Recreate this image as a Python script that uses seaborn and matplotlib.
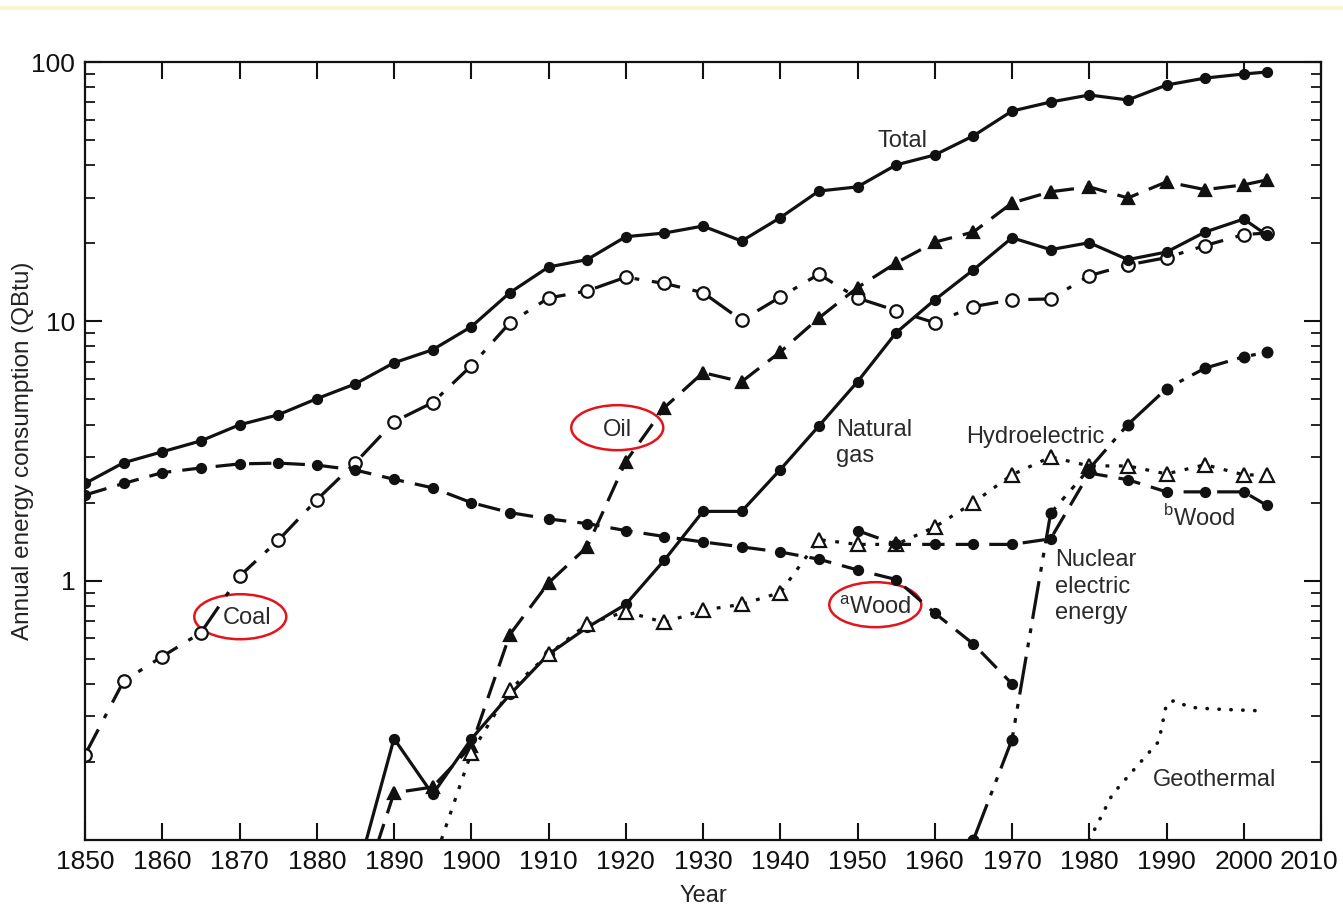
import matplotlib
matplotlib.use("Agg")
import matplotlib.pyplot as plt
import matplotlib.ticker as mticker
from matplotlib.patches import Ellipse, Rectangle
from matplotlib.transforms import ScaledTranslation
import numpy as np
import pandas as pd
import seaborn as sns

# values (QBtu, log scale)
years_5 = list(range(1850, 2001, 5)) + [2003]
total = [2.37, 2.85, 3.14, 3.46, 3.99, 4.36, 5.03, 5.74, 6.92, 7.77, 9.53,
         12.9, 16.2, 17.3, 21.2, 21.9, 23.3, 20.4, 25.1, 31.8, 33.0,
         40.1, 43.8, 51.9, 64.7, 70.1, 74.6, 71.4, 81.5, 86.7, 89.9, 91.5]
coal = [0.213, 0.41, 0.51, 0.63, 1.04, 1.43, 2.05, 2.85, 4.10, 4.86, 6.74,
        9.87, 12.3, 13.1, 14.8, 14.0, 12.9, 10.1, 12.4, 15.2, 12.3,
        11.0, 9.87, 11.4, 12.1, 12.2, 15.0, 16.5, 17.6, 19.6, 21.6, 21.9]

years_oil = list(range(1885, 2001, 5)) + [2003]
oil = [0.053, 0.152, 0.16, 0.23, 0.62, 0.98, 1.35, 2.88, 4.65, 6.34, 5.85,
       7.62, 10.3, 13.5, 16.8, 20.2, 22.1, 28.6, 31.6, 33.0, 29.9, 34.5,
       32.2, 33.6, 35.1]

years_gas = list(range(1885, 2001, 5)) + [2003]
natural_gas = [0.07, 0.246, 0.15, 0.245, 0.364, 0.52, 0.66, 0.81, 1.2, 1.85,
               1.85, 2.68, 3.95, 5.85, 9.04, 12.1, 15.8, 21.0, 18.9, 20.1,
               17.3, 18.5, 22.1, 24.8, 21.5]

years_hydro = list(range(1895, 2001, 5)) + [2003]
hydro = [0.08, 0.217, 0.38, 0.52, 0.68, 0.76, 0.69, 0.77, 0.81, 0.90, 1.44,
         1.38, 1.38, 1.61, 2.0, 2.56, 3.0, 2.77, 2.77, 2.58, 2.8, 2.56, 2.55]

years_wood_a = list(range(1850, 1971, 5))
wood_a = [2.14, 2.37, 2.61, 2.72, 2.82, 2.84, 2.79, 2.67, 2.46, 2.28,
          2.0, 1.83, 1.73, 1.66, 1.56, 1.48, 1.41, 1.35, 1.29, 1.21,
          1.10, 1.01, 0.75, 0.57, 0.40]

years_wood_b = list(range(1950, 2001, 5)) + [2003]
wood_b = [1.56, 1.38, 1.38, 1.38, 1.38, 1.45, 2.6, 2.45, 2.2, 2.2, 2.2, 1.95]

years_nuclear = [1965, 1970, 1975, 1980, 1985, 1990, 1995, 2000, 2003]
nuclear = [0.1, 0.244, 1.82, 2.7, 4.0, 5.5, 6.6, 7.3, 7.6]

years_geo = [1980, 1983, 1986, 1989, 1990, 1991, 1993, 1996, 2002]
geothermal = [0.10, 0.15, 0.19, 0.24, 0.335, 0.345, 0.325, 0.32, 0.315]

x_ticks = list(range(1850, 2011, 10))

sns.set_theme(style="ticks")
plt.rcParams["font.family"] = ["Liberation Sans", "DejaVu Sans"]
plt.rcParams["mathtext.fontset"] = "custom"
plt.rcParams["mathtext.rm"] = "Liberation Sans"

fig = plt.figure(figsize=(13.43, 9.08), dpi=100)
ax = fig.add_axes([85 / 1343, 1 - 840 / 908, (1321 - 85) / 1343, (840 - 62) / 908])
ax.set_yscale("log")

ink = "#111111"
dash = (0, (7, 3.5))
dashdot = (0, (9, 4, 1.5, 4))
dotted = (0, (1.2, 3))
dashdotdot = (0, (12, 3, 1.5, 3, 1.5, 3))

series = [
    (years_5, total, dict(linestyle="-", marker="o", markersize=6.5,
                          markerfacecolor=ink)),
    (years_5, coal, dict(linestyle=dashdot, marker="o", markersize=9,
                         markerfacecolor="white")),
    (years_oil, oil, dict(linestyle=dash, marker="^", markersize=8,
                          markerfacecolor=ink)),
    (years_gas, natural_gas, dict(linestyle="-", marker="o", markersize=6.5,
                                  markerfacecolor=ink)),
    (years_hydro, hydro, dict(linestyle=dotted, marker="^", markersize=10,
                              markerfacecolor="white")),
    (years_wood_a, wood_a, dict(linestyle=dash, marker="o", markersize=6.5,
                                markerfacecolor=ink)),
    (years_wood_b, wood_b, dict(linestyle=dash, marker="o", markersize=6.5,
                                markerfacecolor=ink)),
    (years_nuclear, nuclear, dict(linestyle=dashdotdot, marker="o", markersize=7,
                                  markerfacecolor=ink)),
]
for xs, ys, style in series:
    df = pd.DataFrame({"year": xs, "value": ys})
    sns.lineplot(data=df, x="year", y="value", ax=ax, color=ink, linewidth=2.3,
                 markeredgecolor=ink, markeredgewidth=1.6, errorbar=None,
                 sort=False, **style)

geo_df = pd.DataFrame({"year": years_geo, "value": geothermal})
sns.lineplot(data=geo_df, x="year", y="value", ax=ax, color=ink, linewidth=2.6,
             linestyle=(0, (0.1, 3.2)), dash_capstyle="round", errorbar=None)

ax.set_xlim(1850, 2010)
ax.set_ylim(0.1, 100)
ax.set_xticks(x_ticks)
ax.set_xticklabels([str(x) for x in x_ticks])
ax.set_yticks([1, 10, 100])
ax.set_yticklabels(["1", "10", "100"])
ax.yaxis.set_minor_locator(mticker.LogLocator(base=10, subs=np.arange(2, 10)))
ax.yaxis.set_minor_formatter(mticker.NullFormatter())
ax.xaxis.set_minor_locator(mticker.NullLocator())
ax.tick_params(axis="both", which="major", direction="in", length=12, width=1.5,
               top=True, right=True, labelsize=19, pad=7, colors=ink)
ax.tick_params(axis="y", which="minor", direction="in", length=7, width=1.4,
               left=True, right=True)
for s in ax.spines.values():
    s.set_linewidth(1.6)
    s.set_color(ink)
ax.grid(False)

# the last year label sits a little left of its tick in the scan
last = ax.xaxis.get_major_ticks()[-1].label1
last.set_transform(last.get_transform() + ScaledTranslation(-0.12, 0, fig.dpi_scale_trans))

ax.set_xlabel("Year", fontsize=17, color="#222222", labelpad=8)
ax.set_ylabel("Annual energy consumption (QBtu)", fontsize=17.5, color="#222222")
ax.yaxis.set_label_coords(-0.041, 0.5)

lab = dict(fontsize=17, color="#2a2a2a")
ax.text(1955.8, 49.6, "Total", ha="center", va="center", **lab)
ax.text(1918.9, 3.82, "Oil", ha="center", va="center", **lab)
ax.text(1871.0, 0.72, "Coal", ha="center", va="center", **lab)
ax.text(1952.3, 0.79, r"$^{\mathrm{a}}$Wood", ha="center", va="center", **lab)
ax.text(1947.2, 3.40, "Natural\ngas", ha="left", va="center", linespacing=1.25, **lab)
ax.text(1964.0, 3.59, "Hydroelectric", ha="left", va="center", **lab)
ax.text(1989.6, 1.75, r"$^{\mathrm{b}}$Wood", ha="left", va="center", **lab)
ax.text(1975.6, 0.948, "Nuclear\nelectric\nenergy", ha="left", va="center",
        linespacing=1.25, **lab)
ax.text(1988.3, 0.171, "Geothermal", ha="left", va="center", **lab)

# red hand-drawn style ovals around three labels
for cx, cy in [(1918.9, 3.89), (1870.1, 0.726), (1952.3, 0.808)]:
    trans = fig.dpi_scale_trans + ScaledTranslation(cx, cy, ax.transData)
    ax.add_artist(Ellipse((0, 0), 0.92, 0.45, transform=trans, fill=False,
                          edgecolor="#e3141b", linewidth=1.8, clip_on=False))

# faint yellow strip across the top of the scan
fig.add_artist(Rectangle((0, 1 - 10 / 908), 1, 4 / 908, transform=fig.transFigure,
                         facecolor="#fbf6d2", edgecolor="none"))

fig.savefig("out.png", dpi=100)
